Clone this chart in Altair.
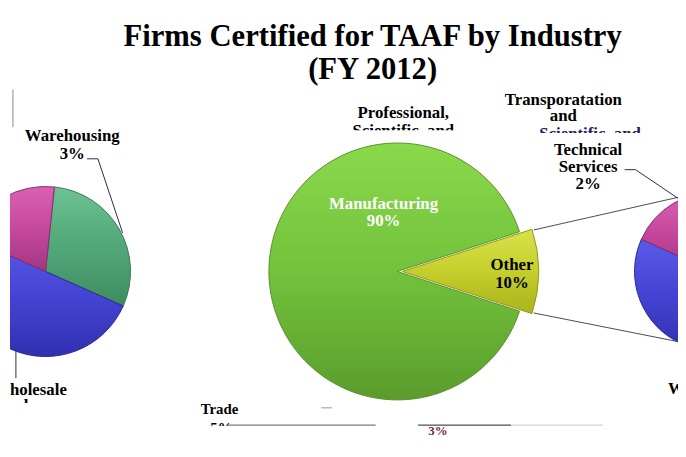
import math
import altair as alt
import pandas as pd

# ---- data ----
main_cats = ["Manufacturing", "Other"]
main_vals = [90, 10]
sub_cats = ["Warehousing", "Wholesale Trade", "Professional, Scientific, and Technical Services"]
sub_vals = [3, 5, 2]

title_lines = ["Firms Certified for TAAF by Industry", "(FY 2012)"]

main_df = pd.DataFrame({"category": main_cats, "value": main_vals, "order": range(len(main_cats))})
sub_df = pd.DataFrame({"category": sub_cats, "value": sub_vals, "order": range(len(sub_cats))})

OFF = 8  # page margin
FONT = "Liberation Serif"


def grad(top, mid, bottom):
    return alt.LinearGradient(
        gradient="linear",
        stops=[alt.GradientStop(color=top, offset=0),
               alt.GradientStop(color=mid, offset=0.5),
               alt.GradientStop(color=bottom, offset=1)],
        x1=0, y1=0, x2=0, y2=1)


def slice_layer(df, cat, cx, cy, r, start_deg, fill, stroke):
    start = math.radians(start_deg)
    return (alt.Chart(df)
            .transform_joinaggregate(total="sum(value)")
            .transform_window(cum="sum(value)", sort=[alt.SortField("order")], frame=[None, 0])
            .transform_calculate(
                t1=f"{start} + 2*PI*(datum.cum - datum.value)/datum.total",
                t2=f"{start} + 2*PI*datum.cum/datum.total")
            .transform_filter(alt.datum.category == cat)
            .mark_arc(radius=r, fill=fill, filled=True, stroke=stroke, strokeWidth=1)
            .encode(theta=alt.Theta("t1:Q", scale=None), theta2=alt.Theta2("t2:Q"),
                    x=alt.value(cx - OFF), y=alt.value(cy - OFF)))


sub_fills = {
    sub_cats[0]: (grad("#6cc292", "#52a779", "#3d8c60"), "#3a7a55"),
    sub_cats[1]: (grad("#5a5aea", "#4444d4", "#3030b0"), "#2a2a90"),
    sub_cats[2]: (grad("#da60b2", "#c6489c", "#a33583"), "#8a2c70"),
}

layers = []
# main pie
layers.append(slice_layer(main_df, "Manufacturing", 402, 272, 130, 108,
                          grad("#8ad94c", "#72c23c", "#5a9c2c"), "#5b8f2c"))
layers.append(slice_layer(main_df, "Other", 407, 272, 138, 108,
                          grad("#d9e14a", "#c5cf2c", "#a9b31c"), "#8e981a"))
# secondary pies (left and right copies)
for cx, cy, r in [(46, 272, 86), (722, 272, 80)]:
    for c in sub_cats:
        f, s = sub_fills[c]
        layers.append(slice_layer(sub_df, c, cx, cy, r, 6, f, s))


def segs_layer(segs, width=1):
    d = pd.DataFrame([{"x": a - OFF, "y": b - OFF, "x2": c - OFF, "y2": e - OFF, "col": col}
                      for a, b, c, e, col in segs])
    return alt.Chart(d).mark_rule(strokeWidth=width).encode(
        x=alt.X("x:Q", scale=None), y=alt.Y("y:Q", scale=None),
        x2="x2:Q", y2="y2:Q", color=alt.Color("col:N", scale=None))


def rect_layer(rects):
    d = pd.DataFrame([{"x": a - OFF, "y": b - OFF, "x2": c - OFF, "y2": e - OFF} for a, b, c, e in rects])
    return alt.Chart(d).mark_rect(fill="white", stroke=None).encode(
        x=alt.X("x:Q", scale=None), y=alt.Y("y:Q", scale=None), x2="x2:Q", y2="y2:Q")


def text_layer(items, size, color="black", align="center", **kw):
    d = pd.DataFrame([{"t": t, "x": x - OFF, "y": y - OFF} for t, x, y in items])
    return alt.Chart(d).mark_text(font=FONT, fontWeight="bold", fontSize=size, fill=color,
                                  align=align, baseline="middle", **kw).encode(
        x=alt.X("x:Q", scale=None), y=alt.Y("y:Q", scale=None), text="t:N")


# connector and leader lines
layers.append(segs_layer([
    (540, 230, 686, 197, "#4a4a4a"),
    (540, 314, 686, 343, "#4a4a4a"),
    (88, 158, 99, 158, "#2b2b55"),
    (99, 158, 124, 233, "#2b2b55"),
    (632, 169, 643, 169, "#2b2b55"),
    (643, 169, 686, 198, "#2b2b55"),
    (16, 352, 16, 380, "#2b2b55"),
    (13, 88, 13, 126, "#888888"),
    (325, 410, 336, 410, "#999999"),
]))

pct = lambda v: f"{v}%"
LS = 17  # label font size

# title
layers.append(text_layer([(title_lines[0], 377, 35), (title_lines[1], 377, 68)], 31))

# half-hidden garbled label lines, then their masks
layers.append(text_layer([("Scientific, and", 408, 130)], LS))
layers.append(text_layer([("Scientific, and", 597, 133)], LS, color="#1c2060"))
layers.append(text_layer([("Trade", -7, 408)], LS, align="left"))
layers.append(text_layer([("Trade", 222, 411), (pct(sub_vals[1]), 224, 430)], 15))
layers.append(text_layer([("3%", 443, 434)], 13, color="#7a2a2a"))
layers.append(rect_layer([
    (330, 129, 490, 140),
    (540, 132, 660, 141),
    (0, 405, 130, 444),
    (200, 428.5, 255, 444),
    (425, 420, 465, 429),
]))

# fully visible labels
layers.append(text_layer([
    ("Professional,", 408, 112),
    ("Transporatation", 570, 99), ("and", 570, 115),
    ("Technical", 595, 149), ("Services", 595, 166), (pct(sub_vals[2]), 595, 184),
    ("Warehousing", 73, 135), (pct(sub_vals[0]), 73, 153),
], LS))
layers.append(text_layer([("Manufacturing", 388, 204), (pct(main_vals[0]), 388, 221)], LS, color="white"))
layers.append(text_layer([("Other", 518, 266), (pct(main_vals[1]), 518, 284)], LS))
layers.append(text_layer([("Wholesale", -7, 392), ("Wholesale", 676, 391)], LS, align="left"))

# left edge cut
layers.append(rect_layer([(0, 0, 10, 444)]))

layers.append(segs_layer([
    (230, 427.5, 380, 427.5, "#555555"),
    (423, 427.5, 517, 427.5, "#222222"),
    (517, 427.5, 610, 427.5, "#c8c8c8"),
]))

chart = (alt.layer(*layers)
         .properties(width=678, height=436, padding=0, autosize="none", background="white")
         .configure_view(stroke=None))

chart.save("out.html", embed_options={"renderer": "svg", "actions": False})
